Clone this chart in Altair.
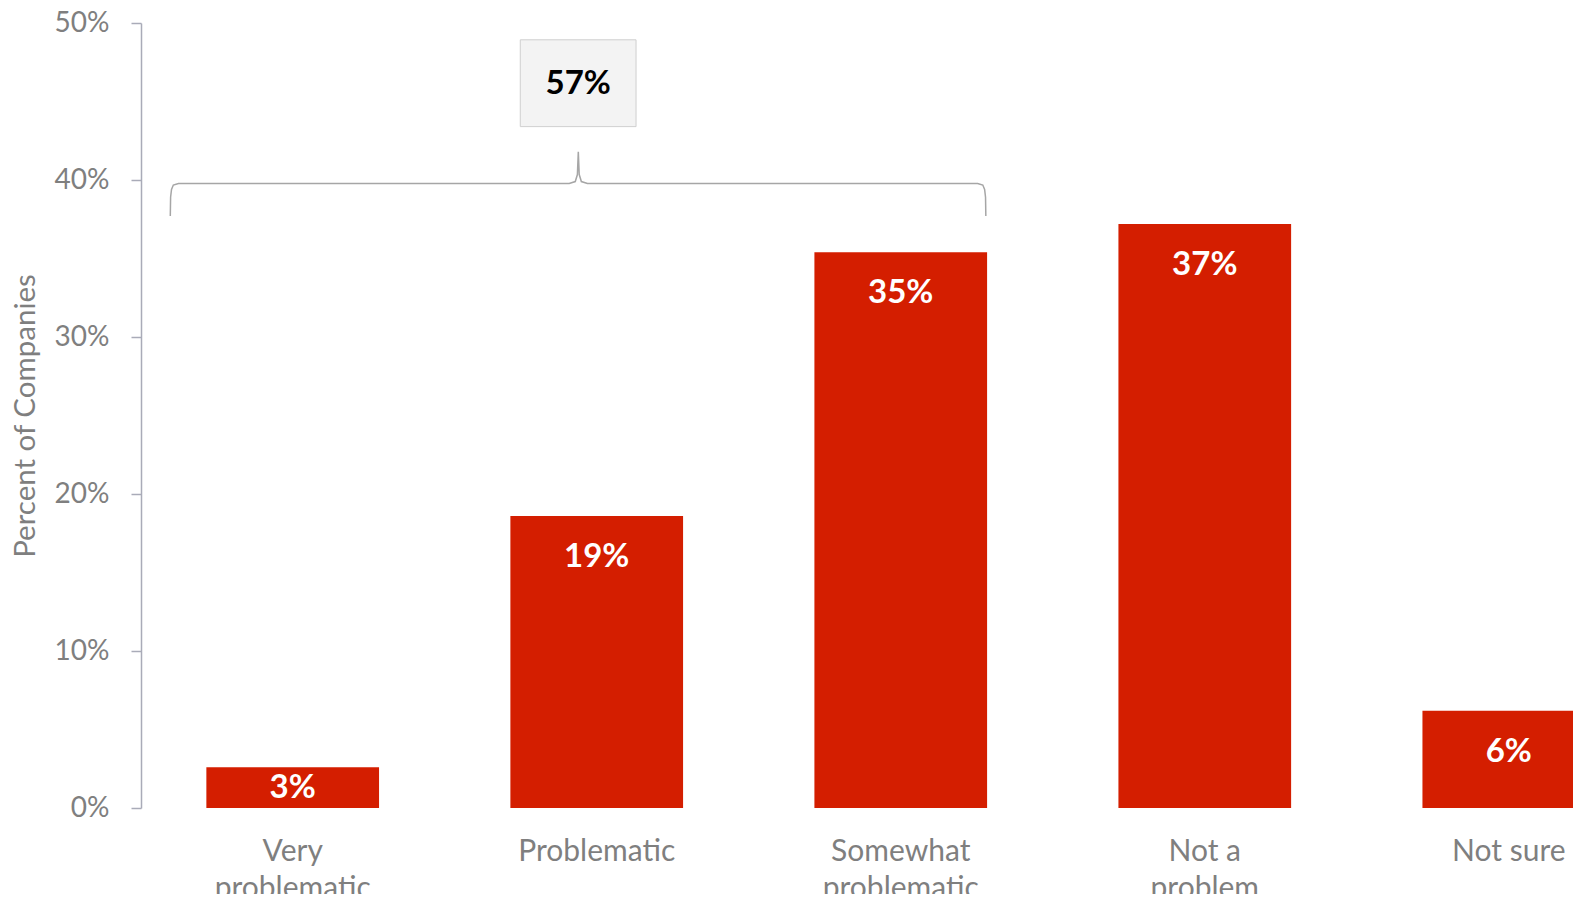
import altair as alt
import pandas as pd

# ---- data ----
categories = ["Very problematic", "Problematic", "Somewhat problematic", "Not a problem", "Not sure"]
values = [2.6, 18.6, 35.4, 37.2, 6.2]
value_labels = ["3%", "19%", "35%", "37%", "6%"]

# bracket annotation (x in bar-index units 0..5, y in percent)
brace_x = [0.0964, 0.0974, 0.1004, 0.1064, 0.1234, 1.409, 1.429, 1.436, 1.439, 1.442, 1.449, 1.469, 2.753, 2.770, 2.776, 2.779, 2.780]
brace_y = [37.7, 38.9, 39.4, 39.68, 39.78, 39.78, 39.9, 40.35, 41.8, 40.35, 39.9, 39.78, 39.78, 39.68, 39.4, 38.9, 37.7]
box_x = [1.248, 1.629]
box_y = [43.4, 48.93]
box_text = "57%"
box_text_pos = [1.4385, 46.1]

RED = "#D41E00"
GRAY = "#7F7F7F"
AXIS = "#A9ABB8"
FONT = "Lato"

bars_df = pd.DataFrame({"category": categories, "value": values, "label": value_labels})
brace_df = pd.DataFrame({"bx": brace_x, "by": brace_y, "order": list(range(len(brace_x)))})
box_df = pd.DataFrame({"x1": [box_x[0]], "x2": [box_x[1]], "y1": [box_y[0]], "y2": [box_y[1]],
                       "tx": [box_text_pos[0]], "ty": [box_text_pos[1]], "t": [box_text]})

RANGE = [0, 1519.5]
yscale = alt.Scale(domain=[0, 50], nice=False, zero=True)

xband = alt.X(
    "category:N",
    sort=categories,
    scale=alt.Scale(range=RANGE, paddingInner=0.432, paddingOuter=0.215),
    axis=alt.Axis(
        title=None, domain=False, ticks=False, labelAngle=0,
        labelFont=FONT, labelFontSize=30, labelColor=GRAY,
        labelPadding=28, labelLineHeight=37, labelLimit=0, labelOverlap=False,
        labelExpr="datum.label == 'Not a problem' ? ['Not a', 'problem'] : (datum.label == 'Problematic' || datum.label == 'Not sure') ? datum.label : split(datum.label, ' ')",
    ),
)
yaxis = alt.Axis(
    values=[0, 10, 20, 30, 40, 50], labelExpr="datum.value + '%'",
    labelFont=FONT, labelFontSize=28, labelColor=GRAY, labelPadding=22,
    tickSize=10, tickColor=AXIS, tickWidth=1.5, domainColor=AXIS, domainWidth=1.5,
    grid=False, title="Percent of Companies", titleFont=FONT, titleFontSize=29.5,
    titleFontWeight="normal", titleColor=GRAY, titleX=-116, titleBaseline="middle",
)

bars = alt.Chart(bars_df).mark_bar(color=RED, clip=True).encode(
    x=xband,
    y=alt.Y("value:Q", scale=yscale, axis=yaxis),
)
labels_big = alt.Chart(bars_df).transform_filter("datum.value > 5").mark_text(
    color="white", font=FONT, fontWeight="bold", fontSize=33, baseline="middle", dy=41
).encode(x=xband, y=alt.Y("value:Q", scale=yscale), text="label:N")
labels_small = alt.Chart(bars_df).transform_filter("datum.value <= 5").transform_calculate(
    mid="datum.value / 2"
).mark_text(
    color="white", font=FONT, fontWeight="bold", fontSize=33, baseline="middle"
).encode(x=xband, y=alt.Y("mid:Q", scale=yscale), text="label:N")

bar_layer = alt.layer(bars, labels_big, labels_small)

xq = alt.Scale(domain=[0, 5], range=RANGE, nice=False, zero=False)
brace = alt.Chart(brace_df).mark_line(color="#A6A6A6", strokeWidth=1.5).encode(
    x=alt.X("bx:Q", scale=xq, axis=None),
    y=alt.Y("by:Q", scale=yscale),
    order="order:Q",
)
box = alt.Chart(box_df).mark_rect(fill="#F3F3F3", stroke="#CFCFCF", strokeWidth=1).encode(
    x=alt.X("x1:Q", scale=xq, axis=None), x2="x2:Q",
    y=alt.Y("y1:Q", scale=yscale), y2="y2:Q",
)
box_label = alt.Chart(box_df).mark_text(
    color="black", font=FONT, fontWeight="bold", fontSize=33, baseline="middle"
).encode(
    x=alt.X("tx:Q", scale=xq, axis=None),
    y=alt.Y("ty:Q", scale=yscale),
    text="t:N",
)
annot_layer = alt.layer(brace, box, box_label)

chart = alt.layer(bar_layer, annot_layer).resolve_scale(x="independent").properties(
    width=1432, height=785,
    background="white",
    autosize=alt.AutoSizeParams(type="none"),
    padding={"left": 133, "top": 15, "right": 0, "bottom": 86},
).configure_view(strokeWidth=0, stroke=None)

chart.save("out.html", embed_options={"renderer": "svg", "actions": False})
